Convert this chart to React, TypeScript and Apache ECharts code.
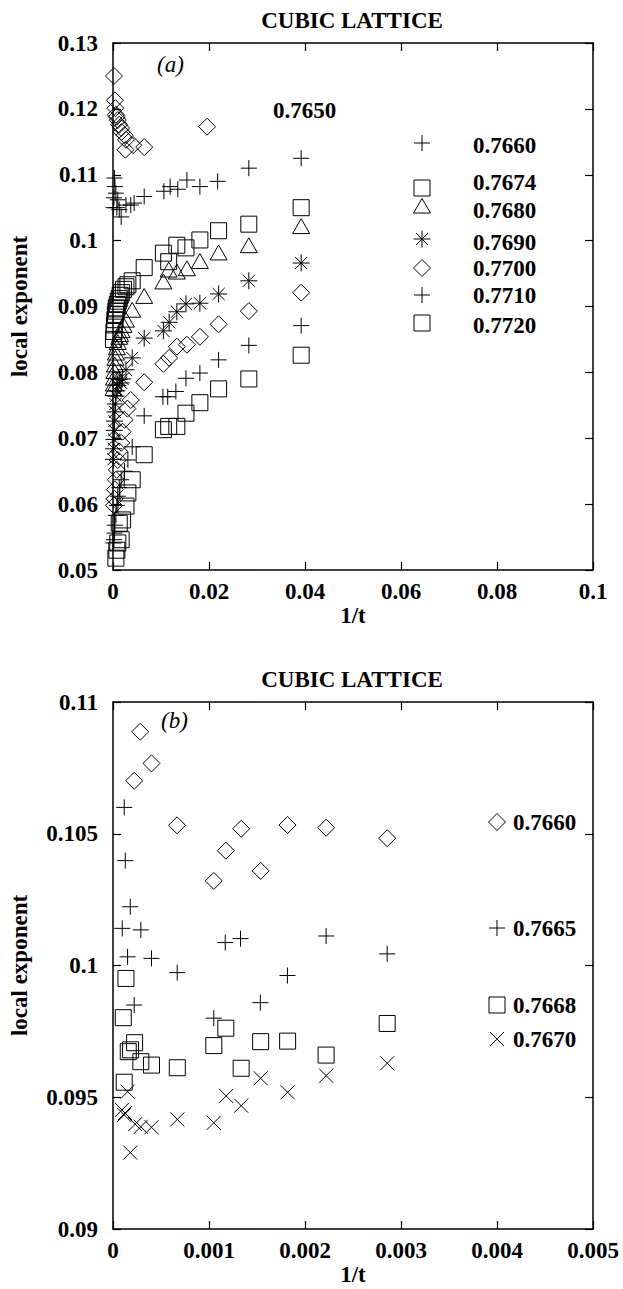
import React, { useEffect, useRef } from 'react';
import * as echarts from 'echarts';

const FONT = '"Liberation Serif", "Times New Roman", Times, serif';
const FS = 23;

// ---------- Panel (a) data: [1/t, local exponent] ----------
const a7650: number[][] = [[0.0196,0.1173],[0.0065,0.1142],[0.0042,0.1145],[0.0027,0.1153],[0.0026,0.1138],[0.0024,0.1160],[0.0018,0.1165],[0.0017,0.1171],[0.0013,0.1176],[0.0010,0.1183],[0.0008,0.1188],[0.0006,0.1191],[0.0005,0.1201],[0.0004,0.1213],[0.0002,0.1250]];
const a7660: number[][] = [[0.0392,0.1125],[0.0283,0.1110],[0.0218,0.1090],[0.0181,0.1082],[0.0154,0.1092],[0.0135,0.1078],[0.0119,0.1082],[0.0106,0.1075],[0.0065,0.1067],[0.0044,0.1057],[0.0037,0.1054],[0.0027,0.1054],[0.0017,0.1036],[0.0013,0.1047],[0.0010,0.1062],[0.0008,0.1050],[0.0006,0.1072],[0.0004,0.1082],[0.0003,0.1095],[0.0002,0.1065],[0.0001,0.1050]];
const a7674: number[][] = [[0.0392,0.1050],[0.0283,0.1025],[0.0220,0.1015],[0.0181,0.1001],[0.0152,0.0989],[0.0133,0.0993],[0.0116,0.0968],[0.0105,0.0981],[0.0065,0.0959],[0.0040,0.0939],[0.0031,0.0933],[0.0027,0.0930],[0.0022,0.0926],[0.0018,0.0921],[0.0015,0.0917],[0.0013,0.0912],[0.0011,0.0908],[0.0009,0.0903],[0.0007,0.0898],[0.0006,0.0893],[0.0005,0.0888],[0.0004,0.0880],[0.0003,0.0872],[0.0002,0.0862],[0.0001,0.0850]];
const a7680: number[][] = [[0.0392,0.1022],[0.0283,0.0993],[0.0220,0.0982],[0.0181,0.0969],[0.0154,0.0958],[0.0133,0.0953],[0.0116,0.0956],[0.0105,0.0938],[0.0065,0.0916],[0.0040,0.0895],[0.0027,0.0880],[0.0022,0.0872],[0.0018,0.0864],[0.0015,0.0858],[0.0013,0.0854],[0.0010,0.0846],[0.0008,0.0838],[0.0006,0.0830],[0.0005,0.0822],[0.0004,0.0812],[0.0003,0.0802],[0.0002,0.0792],[0.00015,0.0783],[0.0001,0.0776]];
const a7690: number[][] = [[0.0392,0.0966],[0.0283,0.0939],[0.0220,0.0919],[0.0181,0.0905],[0.0152,0.0904],[0.0133,0.0892],[0.0117,0.0876],[0.0105,0.0863],[0.0065,0.0852],[0.0040,0.0822],[0.0027,0.0804],[0.0020,0.0790],[0.0017,0.0784],[0.0013,0.0789],[0.0010,0.0780],[0.0008,0.0772],[0.0006,0.0764],[0.0005,0.0752],[0.0004,0.0740],[0.0003,0.0726],[0.00025,0.0712],[0.0002,0.0698],[0.00015,0.0684],[0.0001,0.0668]];
const a7700: number[][] = [[0.0392,0.0921],[0.0283,0.0893],[0.0220,0.0873],[0.0181,0.0854],[0.0154,0.0842],[0.0133,0.0839],[0.0117,0.0822],[0.0105,0.0813],[0.0065,0.0785],[0.0037,0.0758],[0.0030,0.0745],[0.0024,0.0728],[0.0020,0.0710],[0.0017,0.0693],[0.0013,0.0680],[0.0010,0.0667],[0.0008,0.0652],[0.0006,0.0637],[0.0004,0.0622],[0.0003,0.0608],[0.0002,0.0598]];
const a7710: number[][] = [[0.0392,0.0871],[0.0283,0.0841],[0.0220,0.0819],[0.0181,0.0799],[0.0152,0.0791],[0.0131,0.0771],[0.0114,0.0763],[0.0104,0.0763],[0.0065,0.0734],[0.0040,0.0687],[0.0031,0.0667],[0.0024,0.0650],[0.0017,0.0637],[0.0013,0.0625],[0.0010,0.0612],[0.0008,0.0598],[0.0006,0.0583],[0.0004,0.0568],[0.0003,0.0556],[0.0002,0.0546],[0.0001,0.0541]];
const a7720: number[][] = [[0.0392,0.0826],[0.0283,0.0790],[0.0220,0.0775],[0.0181,0.0754],[0.0152,0.0738],[0.0133,0.0718],[0.0116,0.0718],[0.0105,0.0713],[0.0065,0.0675],[0.0040,0.0637],[0.0031,0.0617],[0.0027,0.0597],[0.0020,0.0576],[0.0013,0.0571],[0.0017,0.0546],[0.0010,0.0541],[0.0008,0.0530],[0.0006,0.0518]];

// ---------- Panel (b) data ----------
const b7660: number[][] = [[0.000283,0.10887],[0.000401,0.10767],[0.000221,0.10701],[0.000667,0.10532],[0.00105,0.10321],[0.001175,0.10436],[0.001335,0.10519],[0.001538,0.10359],[0.001818,0.10533],[0.00222,0.10523],[0.002856,0.10483]];
const b7665: number[][] = [[0.000117,0.10600],[0.000128,0.10398],[0.00018,0.10223],[0.0000965,0.10141],[0.00029,0.10135],[0.000152,0.10033],[0.000401,0.10027],[0.000669,0.09973],[0.001169,0.10087],[0.001328,0.10102],[0.001817,0.09962],[0.00222,0.10112],[0.002856,0.10044],[0.000221,0.0985],[0.001535,0.09859],[0.00105,0.0980]];
const b7668: number[][] = [[0.000135,0.09951],[0.000107,0.09802],[0.000225,0.09707],[0.000159,0.09673],[0.000183,0.0968],[0.00029,0.09635],[0.000401,0.09622],[0.00067,0.09612],[0.000117,0.09557],[0.00105,0.09696],[0.001175,0.09762],[0.001335,0.0961],[0.001538,0.09711],[0.001819,0.09713],[0.00222,0.0966],[0.002856,0.0978]];
const b7670: number[][] = [[0.000152,0.09521],[0.000117,0.09433],[0.0000935,0.09452],[0.000125,0.0944],[0.000231,0.09398],[0.00029,0.09388],[0.000401,0.09386],[0.00067,0.09416],[0.00105,0.09403],[0.001179,0.09505],[0.001335,0.09468],[0.001538,0.09572],[0.001819,0.09519],[0.00222,0.09582],[0.002856,0.09629],[0.00018,0.0929]];

const titleText = 'CUBIC LATTICE';
const xName = '1/t';
const yName = 'local exponent';
const legendA = ['0.7660', '0.7674', '0.7680', '0.7690', '0.7700', '0.7710', '0.7720'];
const legendB = ['0.7660', '0.7665', '0.7668', '0.7670'];

// marker shapes
const SYM = {
  plus: 'path://M0 8H16M8 0V16',
  cross: 'path://M0 0L16 16M16 0L0 16',
  star: 'path://M0 8H16M8 0V16M2.3 2.3L13.7 13.7M13.7 2.3L2.3 13.7',
  square: 'path://M0 0H16V16H0Z',
  triangle: 'path://M8 0L16 14H0Z',
  diamond: 'path://M8 0L16 8L8 16L0 8Z',
};
echarts.graphic.registerShape('mkPlus', echarts.graphic.extendPath('M-8 0H8M0 -8V8', {}));
echarts.graphic.registerShape('mkCross', echarts.graphic.extendPath('M-7 -7L7 7M7 -7L-7 7', {}));
echarts.graphic.registerShape('mkStar', echarts.graphic.extendPath('M-8.5 0H8.5M0 -8.5V8.5M-6 -6L6 6M6 -6L-6 6', {}));
echarts.graphic.registerShape('mkSquare', echarts.graphic.extendPath('M-8 -8H8V8H-8Z', {}));
echarts.graphic.registerShape('mkTriangle', echarts.graphic.extendPath('M0 -7.5L8.5 7H-8.5Z', {}));
echarts.graphic.registerShape('mkDiamond', echarts.graphic.extendPath('M0 -8.5L8.5 0L0 8.5L-8.5 0Z', {}));

const mkStyle = { fill: 'none', stroke: '#000', lineWidth: 1 };

function scatter(name: string, data: number[][], sym: string, size: number, gi: number) {
  return {
    type: 'scatter',
    name,
    data,
    xAxisIndex: gi * 2,
    yAxisIndex: gi * 2,
    symbol: sym,
    symbolSize: size,
    symbolKeepAspect: true,
    itemStyle: { color: 'rgba(0,0,0,0)', borderColor: '#000', borderWidth: 1, opacity: 1 },
    emphasis: { disabled: true },
    silent: true,
    clip: false,
  };
}

const axisLabelStyle = { color: '#000', fontFamily: FONT, fontWeight: 'bold', fontSize: FS };

function xAxes(gi: number, max: number, interval: number) {
  const common = {
    gridIndex: gi,
    type: 'value',
    min: 0,
    max,
    interval,
    splitLine: { show: false },
    axisLine: { show: true, onZero: false, lineStyle: { color: '#000', width: 1.5 } },
    axisTick: { show: true, inside: true, length: 8, lineStyle: { color: '#000', width: 1.2 } },
  };
  return [
    {
      ...common,
      position: 'bottom',
      name: xName,
      nameLocation: 'middle',
      nameGap: 33,
      nameTextStyle: { ...axisLabelStyle },
      axisLabel: { ...axisLabelStyle, margin: 10, showMinLabel: true, showMaxLabel: true },
    },
    { ...common, position: 'top', axisLabel: { show: false } },
  ];
}

function yAxes(gi: number, min: number, max: number, interval: number) {
  const common = {
    gridIndex: gi,
    type: 'value',
    min,
    max,
    interval,
    splitLine: { show: false },
    axisLine: { show: true, onZero: false, lineStyle: { color: '#000', width: 1.5 } },
    axisTick: { show: true, inside: true, length: 8, lineStyle: { color: '#000', width: 1.2 } },
  };
  return [
    {
      ...common,
      position: 'left',
      name: yName,
      nameLocation: 'middle',
      nameGap: 82,
      nameTextStyle: { ...axisLabelStyle },
      axisLabel: { ...axisLabelStyle, margin: 15, showMinLabel: true, showMaxLabel: true },
    },
    { ...common, position: 'right', axisLabel: { show: false } },
  ];
}

function txt(text: string, x: number, y: number, opts: any = {}) {
  return {
    type: 'text',
    x,
    y,
    silent: true,
    style: {
      text,
      fill: '#000',
      font: `bold ${FS}px ${FONT}`,
      textAlign: 'left',
      textVerticalAlign: 'middle',
      ...opts,
    },
  };
}

function mk(type: string, x: number, y: number) {
  return { type, x, y, silent: true, style: { ...mkStyle } };
}

export default function App() {
  const ref = useRef<HTMLDivElement>(null);
  useEffect(() => {
    if (!ref.current) return;
    const chart = echarts.init(ref.current, null, { renderer: 'svg' });
    const legendAY = [143, 188, 206, 239, 268, 295, 323];
    const legendATextY = [145, 182, 210, 242, 268, 295, 325];
    const legendAMk = ['mkPlus', 'mkSquare', 'mkTriangle', 'mkStar', 'mkDiamond', 'mkPlus', 'mkSquare'];
    const legendBY = [822, 928, 1005, 1039];
    const legendBMk = ['mkDiamond', 'mkPlus', 'mkSquare', 'mkCross'];
    const graphics: any[] = [
      txt(titleText, 352, 20, { textAlign: 'center' }),
      txt(titleText, 352, 679, { textAlign: 'center' }),
      txt('(a)', 157, 64, { font: `italic ${FS}px ${FONT}` }),
      txt('(b)', 161, 720, { font: `italic ${FS}px ${FONT}` }),
      txt('0.7650', 273, 110),
    ];
    legendA.forEach((t, i) => {
      graphics.push(mk(legendAMk[i], 422, legendAY[i]));
      graphics.push(txt(t, 473, legendATextY[i]));
    });
    legendB.forEach((t, i) => {
      graphics.push(mk(legendBMk[i], 497, legendBY[i]));
      graphics.push(txt(t, 513, legendBY[i]));
    });

    const option: any = {
      animation: false,
      backgroundColor: '#fff',
      textStyle: { fontFamily: FONT },
      grid: [
        { left: 112, top: 43, width: 481, height: 527 },
        { left: 112, top: 702, width: 481, height: 527 },
      ],
      xAxis: [...xAxes(0, 0.1, 0.02), ...xAxes(1, 0.005, 0.001)],
      yAxis: [...yAxes(0, 0.05, 0.13, 0.01), ...yAxes(1, 0.09, 0.11, 0.005)],
      series: [
        scatter('0.7650', a7650, SYM.diamond, 17, 0),
        scatter('0.7660', a7660, SYM.plus, 16, 0),
        scatter('0.7674', a7674, SYM.square, 16, 0),
        scatter('0.7680', a7680, SYM.triangle, 17, 0),
        scatter('0.7690', a7690, SYM.star, 17, 0),
        scatter('0.7700', a7700, SYM.diamond, 17, 0),
        scatter('0.7710', a7710, SYM.plus, 16, 0),
        scatter('0.7720', a7720, SYM.square, 16, 0),
        scatter('0.7660', b7660, SYM.diamond, 17, 1),
        scatter('0.7665', b7665, SYM.plus, 16, 1),
        scatter('0.7668', b7668, SYM.square, 16, 1),
        scatter('0.7670', b7670, SYM.cross, 14, 1),
      ],
      graphic: graphics,
    };
    chart.setOption(option);
    return () => chart.dispose();
  }, []);
  return (
    <div
      ref={ref}
      style={{ position: 'absolute', left: 0, top: 0, width: 623, height: 1289, background: '#fff' }}
    />
  );
}
